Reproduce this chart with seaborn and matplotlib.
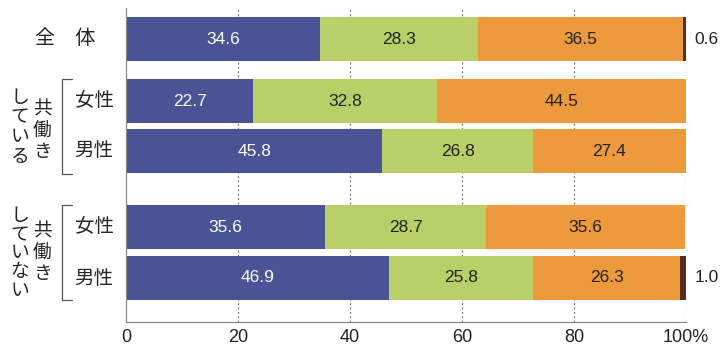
import numpy as np
import pandas as pd
import matplotlib
matplotlib.use('Agg')
import matplotlib.pyplot as plt
import seaborn as sns

# data
rows = ['全体', '共働きしている女性', '共働きしている男性', '共働きしていない女性', '共働きしていない男性']
seg1 = [34.6, 22.7, 45.8, 35.6, 46.9]   # blue
seg2 = [28.3, 32.8, 26.8, 28.7, 25.8]   # green
seg3 = [36.5, 44.5, 27.4, 35.6, 26.3]   # orange
seg4 = [0.6, 0.0, 0.0, 0.0, 1.0]        # dark brown
outside_labels = ['0.6', '', '', '', '1.0']
ticks = [0, 20, 40, 60, 80, 100]
tick_labels = ['0', '20', '40', '60', '80', '100%']

colors = ['#4a5396', '#b9cf68', '#ec9a3c', '#5b2b1f']
text_colors = ['white', '#222222', '#222222']

sns.set_style('white')
plt.rcParams['font.family'] = ['Liberation Sans', 'Noto Sans CJK JP']

W, H = 721, 347
fig = plt.figure(figsize=(W / 100, H / 100), dpi=100)
ax = fig.add_axes([126 / W, 1 - 322 / H, 560 / W, 314 / H])

# row positions (pixel-like layout units, groups separated by gaps)
ypos = [39, 101, 151, 227, 278]

segs = [seg1, seg2, seg3, seg4]
cum = np.cumsum(np.array(segs), axis=0)
df = pd.DataFrame({'row': rows, 'y': ypos})

# draw cumulative bars from widest to narrowest -> stacked look
for i in range(3, -1, -1):
    d = df.copy()
    d['v'] = cum[i]
    sns.barplot(data=d, x='v', y='y', orient='h', native_scale=True,
                color=colors[i], saturation=1, width=0.88, ax=ax,
                edgecolor='none', linewidth=0)

ax.set_ylim(322, 8)
ax.set_xlim(0, 100)
ax.set_xlabel('')
ax.set_ylabel('')
ax.set_yticks([])
ax.set_xticks(ticks)
ax.set_xticklabels(tick_labels, fontsize=13)
ax.tick_params(axis='x', length=0, pad=5, colors='#222222')

for x in [20, 40, 60, 80, 100]:
    ax.axvline(x, color='#777777', linestyle=(0, (1.5, 2)), linewidth=0.9, zorder=0)
ax.set_axisbelow(True)

for s in ['top', 'right']:
    ax.spines[s].set_visible(False)
for s in ['left', 'bottom']:
    ax.spines[s].set_color('#888888')
    ax.spines[s].set_linewidth(0.9)

# value labels
for r in range(len(rows)):
    left = 0
    for i in range(3):
        v = segs[i][r]
        ax.text(left + v / 2, ypos[r], f'{v:.1f}', ha='center', va='center',
                fontsize=12.5, color=text_colors[i])
        left += v
    if outside_labels[r]:
        ax.text(101.5, ypos[r], outside_labels[r], ha='left', va='center',
                fontsize=12.5, color='#222222', clip_on=False)

# left-side labels (figure pixel coordinates)
def ftxt(x, y, s, **kw):
    fig.text(x / W, 1 - y / H, s, **kw)

jp = ['Noto Sans CJK JP']
ftxt(65, 39, '全　体', ha='center', va='center', fontsize=14.5, family=jp)
for y, s in [(101, '女性'), (151, '男性'), (227, '女性'), (278, '男性')]:
    ftxt(94, y, s, ha='center', va='center', fontsize=14, family=jp)

ftxt(42, 130, '\n'.join('共働き'), ha='center', va='center', fontsize=13.5,
     family=jp, linespacing=1.0)
ftxt(20, 127, '\n'.join('している'), ha='center', va='center', fontsize=13.5,
     family=jp, linespacing=0.92)
ftxt(42, 252, '\n'.join('共働き'), ha='center', va='center', fontsize=13.5,
     family=jp, linespacing=1.0)
ftxt(20, 253, '\n'.join('していない'), ha='center', va='center', fontsize=13.5,
     family=jp, linespacing=0.85)

# brackets
for y0, y1 in [(79, 174), (205, 300)]:
    xs = np.array([72, 62, 62, 72]) / W
    ys = 1 - np.array([y0, y0, y1, y1]) / H
    fig.add_artist(plt.Line2D(xs, ys, color='#555555', linewidth=0.9))

fig.savefig('out.png', dpi=100)
